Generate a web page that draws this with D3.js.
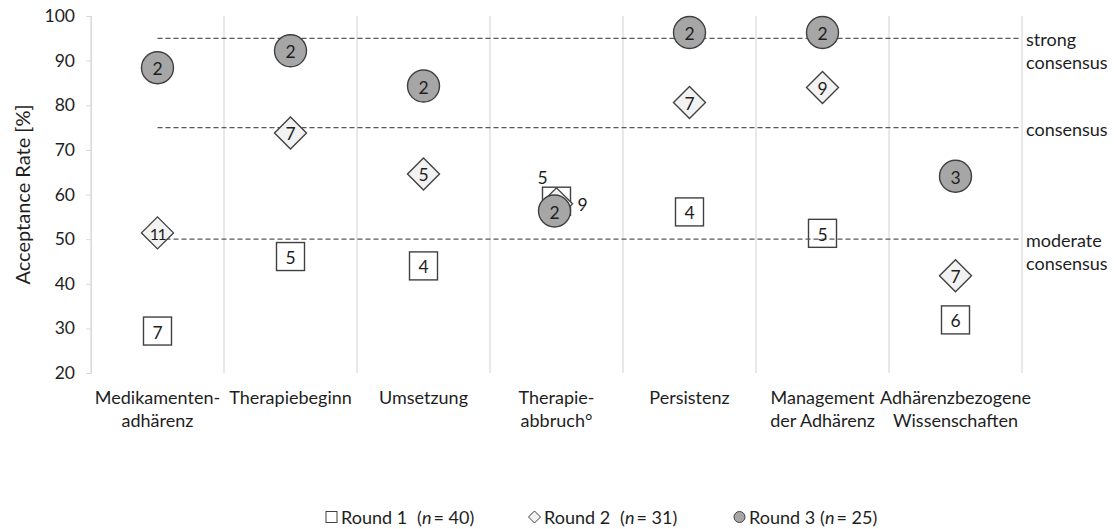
<!DOCTYPE html>
<html><head><meta charset="utf-8">
<script src="https://cdn.jsdelivr.net/npm/d3@7/dist/d3.min.js"></script>
<style>
html,body{margin:0;padding:0;background:#fff;}
svg{display:block;font-family:Lato,"Open Sans",sans-serif;}
</style></head>
<body><svg id="chart" width="1114" height="529"></svg>
<script>
const categories = [
  ["Medikamenten-","adhärenz"],
  ["Therapiebeginn"],
  ["Umsetzung"],
  ["Therapie-","abbruch°"],
  ["Persistenz"],
  ["Management","der Adhärenz"],
  ["Adhärenzbezogene","Wissenschaften"]
];
const round1 = [29.4, 46.1, 44.0, 58.5, 56.1, 51.3, 31.9];
const round1Counts = [7, 5, 4, 5, 4, 5, 6];
const round2 = [51.4, 73.8, 64.6, 57.9, 80.6, 84.0, 41.8];
const round2Counts = [11, 7, 5, 9, 7, 9, 7];
const round3 = [88.4, 92.2, 84.3, 56.3, 96.3, 96.3, 64.1];
const round3Counts = [2, 2, 2, 2, 2, 2, 3];
const thresholds = [95, 75, 50];
const thresholdLabels = [["strong","consensus"],["consensus"],["moderate","consensus"]];
const yTicks = [20, 30, 40, 50, 60, 70, 80, 90, 100];
const legendLabels = [["Round 1","40"],["Round 2","31"],["Round 3","25"]];

const svg = d3.select("#chart");
const m = {left:91, top:16, right:92, bottom:156};
const W = 1114, H = 529;
const keys = categories.map((c,i)=>"c"+i);
const x = d3.scaleBand().domain(keys).range([m.left, W-m.right]).padding(0);
const y = d3.scaleLinear().domain([20,100]).range([H-m.bottom, m.top]);
const cx = i => x(keys[i]) + x.bandwidth()/2;
const textCol = "#1e1e1e", markStroke = "#404040";

// vertical gridlines at category boundaries
const bounds = keys.map(k=>x(k)).concat([W-m.right]);
svg.append("g").selectAll("line").data(bounds).join("line")
  .attr("x1",d=>d).attr("x2",d=>d).attr("y1",y(100)).attr("y2",y(20))
  .attr("stroke","#d9d9d9").attr("stroke-width",1.2);

// y axis
const yAxis = svg.append("g").attr("transform",`translate(${m.left},0)`)
  .call(d3.axisLeft(y).tickValues(yTicks).tickSize(5).tickPadding(11));
yAxis.select(".domain").attr("stroke","#d9d9d9");
yAxis.selectAll(".tick line").attr("stroke","#d9d9d9");
yAxis.selectAll(".tick text").attr("font-size",17.5).attr("fill",textCol).attr("font-family","Lato");

svg.append("text").attr("transform",`translate(22,${(y(100)+y(20))/2}) rotate(-90)`)
  .attr("text-anchor","middle").attr("dominant-baseline","central")
  .attr("font-size",20).attr("fill",textCol).text("Acceptance Rate [%]");

// category labels
categories.forEach((lines,i)=>{
  const t = svg.append("text").attr("text-anchor","middle").attr("font-size",18).attr("fill",textCol);
  lines.forEach((ln,j)=>{
    t.append("tspan").attr("x",cx(i)).attr("y",y(20)+24+j*23).attr("dominant-baseline","central").text(ln);
  });
});

// round 1 squares (below threshold lines)
const sq = 28;
const g1 = svg.append("g");
round1.forEach((v,i)=>{
  g1.append("rect").attr("x",cx(i)-sq/2).attr("y",y(v)-sq/2).attr("width",sq).attr("height",sq)
    .attr("fill","#fff").attr("stroke",markStroke).attr("stroke-width",1.4);
});

// threshold dashed lines
thresholds.forEach((t,k)=>{
  svg.append("line").attr("x1",cx(0)).attr("x2",W-m.right-2).attr("y1",y(t)).attr("y2",y(t))
    .attr("stroke","#595959").attr("stroke-width",1.3).attr("stroke-dasharray","5,3");
  const tt = svg.append("text").attr("font-size",18).attr("fill",textCol);
  thresholdLabels[k].forEach((ln,j)=>{
    tt.append("tspan").attr("x",W-m.right+4).attr("y",y(t)+1+j*23).attr("dominant-baseline","central").text(ln);
  });
});

// round 1 labels
round1.forEach((v,i)=>{
  const crowded = Math.abs(round1[i]-round2[i])<5;
  svg.append("text").attr("x",crowded?cx(i)-sq/2:cx(i)).attr("y",crowded?y(v)-sq/2-10:y(v)+1)
    .attr("text-anchor","middle").attr("dominant-baseline","central")
    .attr("font-size",17.5).attr("fill",textCol).text(round1Counts[i]);
});

// round 2 diamonds
const dh = 16;
round2.forEach((v,i)=>{
  const px = cx(i), py = y(v);
  svg.append("path").attr("d",`M${px},${py-dh}L${px+dh},${py}L${px},${py+dh}L${px-dh},${py}Z`)
    .attr("fill","#f2f2f2").attr("stroke",markStroke).attr("stroke-width",1.4);
  const crowded = Math.abs(round1[i]-round2[i])<5;
  svg.append("text").attr("x",crowded?px+dh+5:px).attr("y",py+1)
    .attr("text-anchor",crowded?"start":"middle").attr("dominant-baseline","central")
    .attr("font-size",round2Counts[i]>9?16:17.5).attr("letter-spacing",round2Counts[i]>9?-1.5:0)
    .attr("fill",textCol).text(round2Counts[i]);
});

// round 3 circles
round3.forEach((v,i)=>{
  const px = cx(i) - (Math.abs(round1[i]-round2[i])<5?2:0), py = y(v);
  svg.append("circle").attr("cx",px).attr("cy",py).attr("r",16)
    .attr("fill","#a6a6a6").attr("stroke",markStroke).attr("stroke-width",1.4);
  svg.append("text").attr("x",px).attr("y",py+1).attr("text-anchor","middle").attr("dominant-baseline","central")
    .attr("font-size",17.5).attr("fill",textCol).text(round3Counts[i]);
});

// legend
const legX = [326, 529, 734], legY = 517;
legendLabels.forEach((l,k)=>{
  const lx = legX[k];
  if(k===0) svg.append("rect").attr("x",lx).attr("y",legY-5.5).attr("width",11).attr("height",11)
    .attr("fill","#fff").attr("stroke",markStroke).attr("stroke-width",1);
  if(k===1) svg.append("path").attr("d",`M${lx+5.5},${legY-6}L${lx+11.5},${legY}L${lx+5.5},${legY+6}L${lx-0.5},${legY}Z`)
    .attr("fill","#f2f2f2").attr("stroke",markStroke).attr("stroke-width",1);
  if(k===2) svg.append("circle").attr("cx",lx+5.5).attr("cy",legY).attr("r",5.5)
    .attr("fill","#a6a6a6").attr("stroke",markStroke).attr("stroke-width",1);
  const t = svg.append("text").attr("x",lx+15).attr("y",legY).attr("dominant-baseline","central")
    .attr("font-size",18).attr("fill",textCol);
  t.append("tspan").text(l[0]);
  t.append("tspan").attr("dx",k===2?5:10).text("(");
  t.append("tspan").attr("font-style","italic").text("n");
  t.append("tspan").attr("dx",2).text("= "+l[1]+")");
});
</script></body></html>
